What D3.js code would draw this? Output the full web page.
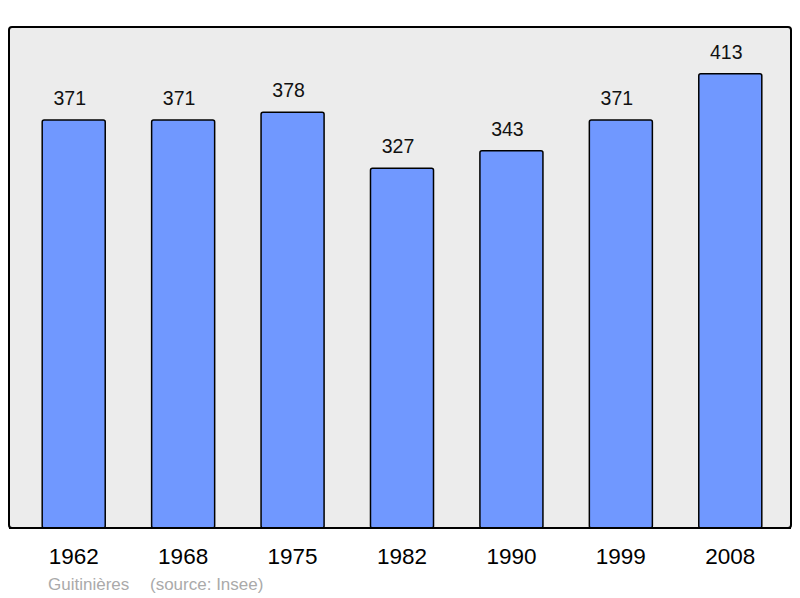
<!DOCTYPE html>
<meta charset="utf-8">
<head>
	<title>Guitinières</title>
</head>
<style>
body { margin: 0; background: #fff; }
svg { display: block; font-family: "Liberation Sans", Arial, sans-serif; }
.bar { fill: #7098ff; stroke: #000; stroke-width: 1.5; }
.val { font-size: 19.5px; text-anchor: middle; fill: #111; }
.year { font-size: 22.5px; text-anchor: middle; fill: #000; }
.foot { font-size: 17px; fill: #aaa; }
</style>
<body>
<svg width="800" height="598"></svg>
<script src="https://cdnjs.cloudflare.com/ajax/libs/d3/7.8.5/d3.min.js"></script>
<script>

var years = ['1962', '1968', '1975', '1982', '1990', '1999', '2008'];
var population = [371, 371, 378, 327, 343, 371, 413];

var svg = d3.select('svg');

// cadre du graphique
var top_ = 27, bottom = 528, left = 9, right = 791;

svg.append('rect')
	.attr('x', left)
	.attr('y', top_)
	.attr('width', right - left)
	.attr('height', bottom - top_)
	.attr('rx', 3)
	.style('fill', '#ececec')
	.style('stroke', '#000')
	.style('stroke-width', 2);

var x = d3.scaleBand()
	.domain(years)
	.range([19, 785])
	.paddingInner(0.424)
	.paddingOuter(0.212);

var y = d3.scaleLinear()
	.domain([0, 455.5])
	.range([bottom, top_]);

var data = years.map(function(d, i) { return {year: d, value: population[i]}; });

svg.selectAll('.bar')
	.data(data)
	.enter()
	.append('rect')
	.classed('bar', true)
	.attr('x', function(d) { return x(d.year); })
	.attr('y', function(d) { return y(d.value); })
	.attr('width', x.bandwidth())
	.attr('height', function(d) { return bottom - y(d.value); })
	.attr('rx', 2);

// on redessine le bas du cadre par-dessus les barres
svg.append('line')
	.attr('x1', left)
	.attr('x2', right)
	.attr('y1', bottom)
	.attr('y2', bottom)
	.style('stroke', '#000')
	.style('stroke-width', 2);

// les valeurs sont un peu décalées vers la gauche
svg.selectAll('.val')
	.data(data)
	.enter()
	.append('text')
	.classed('val', true)
	.attr('x', function(d) { return x(d.year) + x.bandwidth() / 2 - 4; })
	.attr('y', function(d) { return y(d.value) - 15; })
	.text(function(d) { return d.value; });

svg.selectAll('.year')
	.data(years)
	.enter()
	.append('text')
	.classed('year', true)
	.attr('x', function(d) { return x(d) + x.bandwidth() / 2; })
	.attr('y', 564)
	.text(function(d) { return d; });

svg.append('text')
	.classed('foot', true)
	.attr('x', 48)
	.attr('y', 590)
	.text('Guitinières');

svg.append('text')
	.classed('foot', true)
	.attr('x', 150)
	.attr('y', 590)
	.text('(source: Insee)');

</script>
</body>
</html>
